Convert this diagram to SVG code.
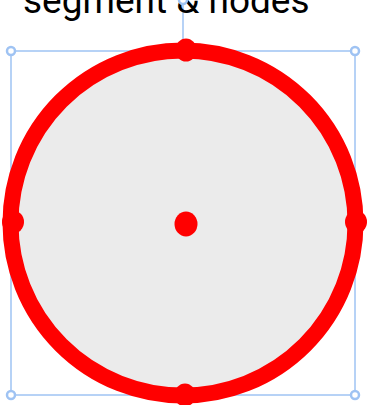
<svg xmlns="http://www.w3.org/2000/svg" width="368" height="405" viewBox="0 0 368 405">
<style>
.sel{fill:none;stroke:#9fc3f3;stroke-width:1.5}
.h{fill:#fff;stroke:#9fc3f3;stroke-width:2.5}
.node{fill:#ff0000}
</style>
<rect width="368" height="405" fill="#fff"/>
<g id="connectors">
<line class="sel" x1="183" y1="0" x2="183" y2="51"/>
<rect class="sel" x="11" y="51" width="344" height="344"/>
</g>
<g id="label">
<text x="23" y="13" font-family="Roboto, sans-serif" font-size="37" fill="#000">segment &amp; nodes</text>
</g>
<g id="handles">
<circle class="h" cx="183" cy="0" r="4"/>
<circle class="h" cx="11" cy="51" r="4"/>
<circle class="h" cx="355" cy="51" r="4"/>
<circle class="h" cx="11" cy="395" r="4"/>
<circle class="h" cx="355" cy="395" r="4"/>
</g>
<g id="segment">
<circle cx="183" cy="223" r="172.5" fill="#ebebeb" stroke="#ff0000" stroke-width="16"/>
</g>
<g id="nodes">
<ellipse class="node" cx="186" cy="50" rx="10.5" ry="11.5"/>
<ellipse class="node" cx="13" cy="222" rx="11" ry="11.5"/>
<ellipse class="node" cx="356" cy="222" rx="11" ry="11.5"/>
<ellipse class="node" cx="185" cy="395" rx="10.5" ry="11.5"/>
<ellipse class="node" cx="186" cy="224" rx="11.5" ry="12.5"/>
</g>
</svg>
